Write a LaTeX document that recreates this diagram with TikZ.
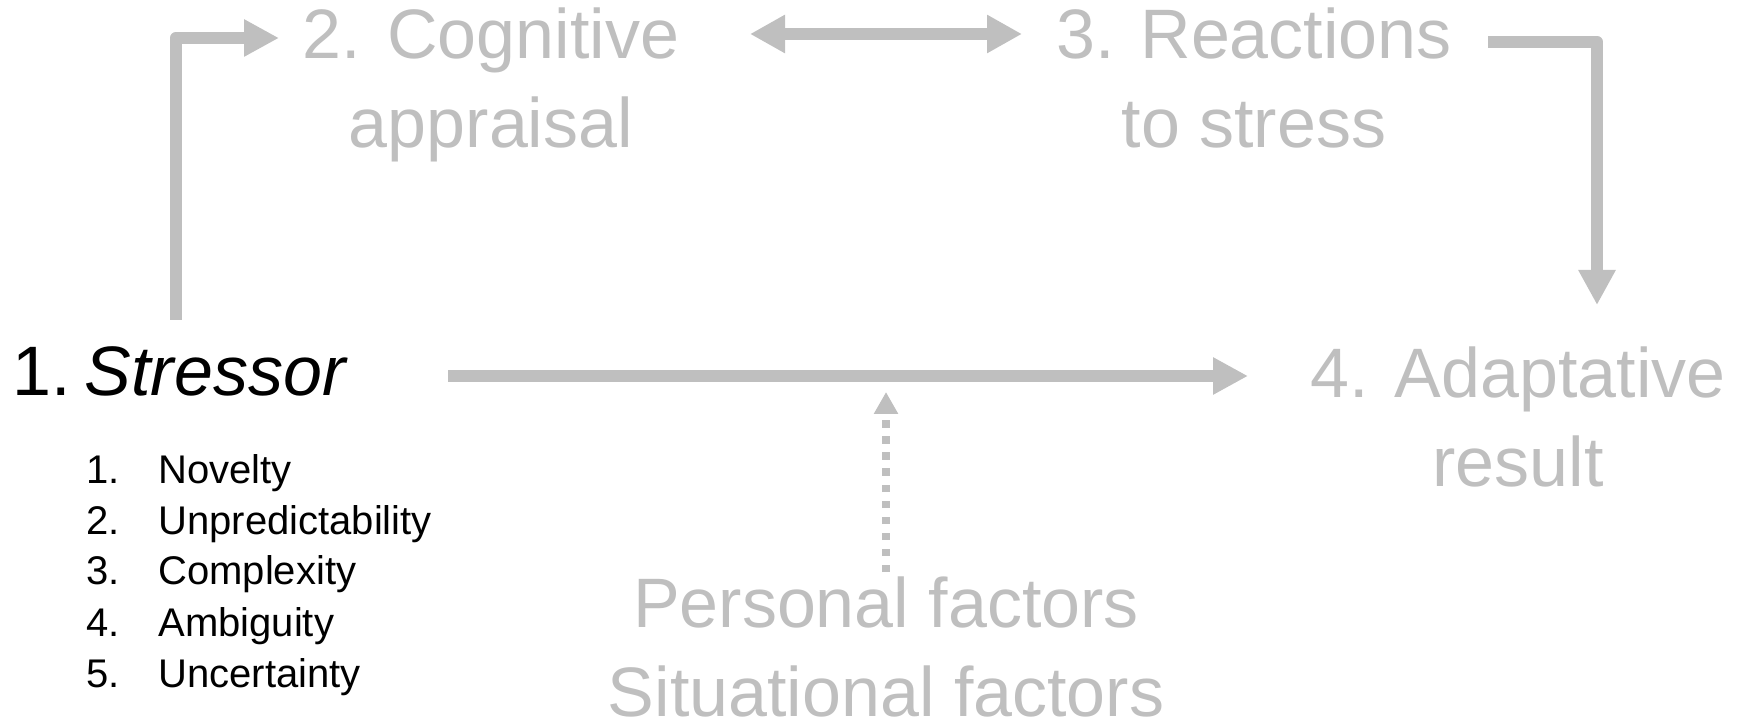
\documentclass[tikz,border=0pt]{standalone}
\usepackage{fontspec}
\setmainfont{Liberation Sans}
\usetikzlibrary{arrows.meta}
\definecolor{stressgray}{RGB}{191,191,191}
\tikzset{
  bigtxt/.style={inner sep=0pt, font=\fontsize{35pt}{44.5pt}\selectfont, align=center},
  fatarrow/.style={draw=stressgray, line width=6.25pt, line join=round,
    -{Triangle[length=17.5pt,width=17.5pt]}},
  dotarrow/.style={draw=stressgray, line width=3.75pt, dash pattern=on 3.75pt off 4.25pt,
    -{Triangle[length=11pt,width=11.5pt]}},
}
\begin{document}
\begin{tikzpicture}[x=0.5pt,y=-0.5pt]
\useasboundingbox (0,0) rectangle (1738,726);

% base anchor sits on the last line
\node[bigtxt, anchor=base west] (stressor) at (12,396) {1.\hspace{0.2em}\textit{Stressor}};
\node[bigtxt, anchor=base, text=stressgray] (cognitive) at (491,148) {2. Cognitive\\appraisal};
\node[bigtxt, anchor=base, text=stressgray] (reactions) at (1254,148) {3. Reactions\\to stress};
\node[bigtxt, anchor=base, text=stressgray] (result) at (1518,487) {4. Adaptative\\result};
\node[bigtxt, anchor=base, text=stressgray] (factors) at (886,716) {Personal factors\\Situational factors};

\node[inner sep=0pt, anchor=base west, font=\fontsize{20pt}{25.5pt}\selectfont] (features) at (86,483)
  {\begin{tabular}[t]{@{}p{36pt}@{}l@{}}
  1. & Novelty\\
  2. & Unpredictability\\
  3. & Complexity\\
  4. & Ambiguity\\
  5. & Uncertainty
  \end{tabular}};

\coordinate (s1) at (176,320);
\coordinate (s2) at (279,38);
\coordinate (r1) at (1488,42);
\coordinate (r2) at (1597,305);
\coordinate (c1) at (750,34);
\coordinate (c2) at (1022,34);
\coordinate (m1) at (448,376);
\coordinate (m2) at (1248,376);
\coordinate (f1) at (886,572);
\coordinate (f2) at (886,392);

\draw[fatarrow] (s1) |- (s2);
\draw[fatarrow, {Triangle[length=17.5pt,width=18pt]}-{Triangle[length=17.5pt,width=18pt]}] (c1) -- (c2);
\draw[fatarrow] (r1) -| (r2);
\draw[fatarrow] (m1) -- (m2);
\draw[dotarrow] (f1) -- (f2);

\end{tikzpicture}
\end{document}
